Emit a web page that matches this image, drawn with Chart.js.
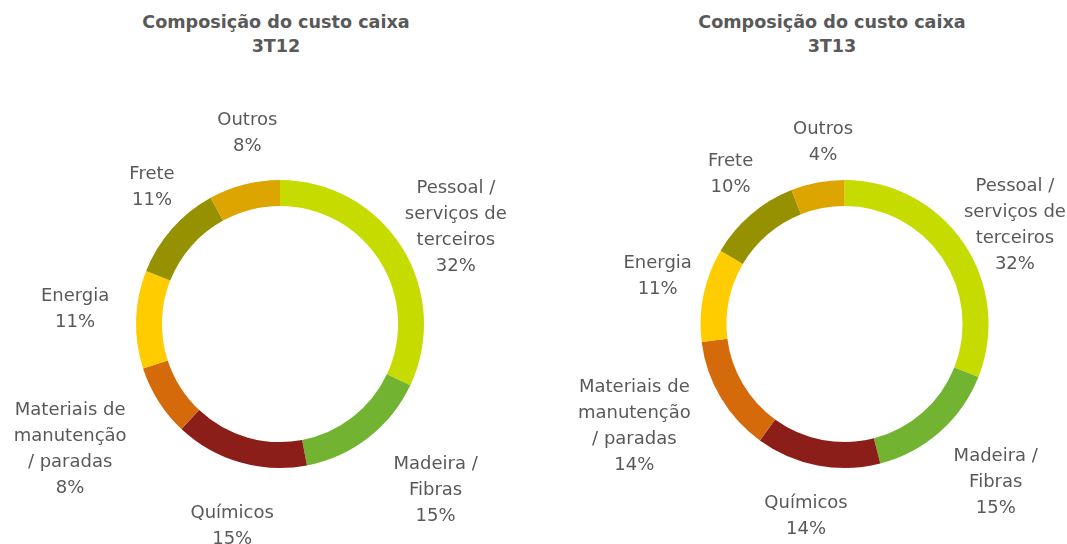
<!DOCTYPE html>
<html>
<head>
<meta charset="utf-8">
<script src="https://cdn.jsdelivr.net/npm/chart.js@4"></script>
<style>
  body { margin: 0; background: #fff; }
  #page { position: relative; width: 1067px; height: 544px; overflow: hidden; }
  .title { position: absolute; top: 10px; text-align: center; font: bold 17.6px "DejaVu Sans", sans-serif;
           line-height: 24px; color: #595959; }
  .box { position: absolute; top: 0; height: 544px; }
</style>
</head>
<body>
<div id="page">
  <div class="title" style="left:0;width:552px">Composição do custo caixa<br>3T12</div>
  <div class="title" style="left:600px;width:464px">Composição do custo caixa<br>3T13</div>
  <div class="box" style="left:0;width:533px"><canvas id="chart3T12"></canvas></div>
  <div class="box" style="left:533px;width:534px"><canvas id="chart3T13"></canvas></div>
</div>
<script>
// categorias (em linhas, como aparecem no gráfico)
const categorias = [
  ["Pessoal /", "serviços de", "terceiros"],
  ["Madeira /", "Fibras"],
  ["Químicos"],
  ["Materiais de", "manutenção", "/ paradas"],
  ["Energia"],
  ["Frete"],
  ["Outros"]
];
const cores = ["#c6db00", "#72b432", "#8c1e1a", "#d56a0a", "#ffcc00", "#969100", "#dca500"];

// 3T12
const valores3T12 = [32, 15, 15, 8, 11, 11, 8];
const rotulos3T12 = ["32%", "15%", "15%", "8%", "11%", "11%", "8%"];
// 3T13 (fatias; rótulos como impressos)
const valores3T13 = [31, 15, 14, 13, 10.5, 10.5, 6];
const rotulos3T13 = ["32%", "15%", "14%", "14%", "11%", "10%", "4%"];

// pequenos ajustes de posição dos rótulos (px)
const ajuste3T12 = [[7, 10], [33, 8], [8, 10], [-41, 18], [-5, -8], [22, -4], [17, 3]];
const ajuste3T13 = [[5, 14], [19, 8], [-1, -4], [-38, 1], [9, -7], [16, 2], [16, 15]];

const rotulosPlugin = {
  id: 'rotulos',
  afterDatasetsDraw(chart, args, opts) {
    const ctx = chart.ctx;
    const meta = chart.getDatasetMeta(0);
    ctx.save();
    ctx.font = '18px "DejaVu Sans", sans-serif';
    ctx.fillStyle = '#595959';
    ctx.textAlign = 'center';
    ctx.textBaseline = 'middle';
    meta.data.forEach(function(arc, i) {
      const p = arc.getProps(['x', 'y', 'startAngle', 'endAngle', 'outerRadius'], true);
      const mid = (p.startAngle + p.endAngle) / 2;
      const dist = p.outerRadius + 56;
      const cx = p.x + Math.cos(mid) * dist + opts.ajuste[i][0];
      const cy = p.y + Math.sin(mid) * dist + opts.ajuste[i][1];
      const linhas = categorias[i].concat([opts.rotulos[i]]);
      const lh = 26;
      const y0 = cy - (linhas.length - 1) * lh / 2;
      linhas.forEach(function(t, k) { ctx.fillText(t, cx, y0 + k * lh); });
    });
    ctx.restore();
  }
};

function criarGrafico(id, valores, rotulos, ajuste, padding) {
  return new Chart(document.getElementById(id), {
    type: 'doughnut',
    data: {
      labels: categorias.map(function(c) { return c.join(' '); }),
      datasets: [{
        data: valores,
        backgroundColor: cores,
        borderWidth: 0
      }]
    },
    options: {
      responsive: true,
      maintainAspectRatio: false,
      animation: false,
      cutout: '82%',
      layout: { padding: padding },
      plugins: {
        legend: { display: false },
        tooltip: { enabled: false },
        rotulos: { rotulos: rotulos, ajuste: ajuste }
      }
    },
    plugins: [rotulosPlugin]
  });
}

criarGrafico('chart3T12', valores3T12, rotulos3T12, ajuste3T12,
  { left: 136, right: 109, top: 180, bottom: 76 });
criarGrafico('chart3T13', valores3T13, rotulos3T13, ajuste3T13,
  { left: 167.5, right: 78.5, top: 180, bottom: 76 });
</script>
</body>
</html>
